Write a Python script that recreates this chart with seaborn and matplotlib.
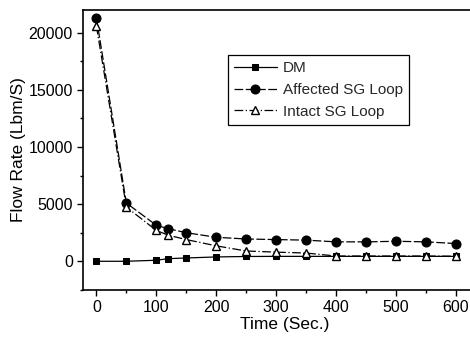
import numpy as np
import pandas as pd
import matplotlib
matplotlib.use("Agg")
import matplotlib.pyplot as plt
import seaborn as sns
from matplotlib.ticker import MultipleLocator

sns.set_theme(style="ticks")
plt.rcParams['font.family'] = ['Liberation Sans', 'DejaVu Sans']

time_sec = [0, 50, 100, 120, 150, 200, 250, 300, 350, 400, 450, 500, 550, 600]
dm_flow = [0, 0, 90, 230, 290, 380, 420, 430, 430, 430, 430, 430, 430, 430]
affected_flow = [21300, 5100, 3150, 2850, 2500, 2100, 1950, 1900, 1850, 1700, 1700, 1750, 1700, 1550]
intact_flow = [20600, 4750, 2700, 2280, 1900, 1350, 900, 800, 720, 460, 460, 460, 460, 440]

fig = plt.figure(figsize=(4.7, 3.41), dpi=100)
# axes runs past the right edge, as in the cropped original
ax = fig.add_axes([0.177, 0.150, 0.857, 0.821])

sns.lineplot(x=time_sec, y=dm_flow, ax=ax, color='black', linestyle='-', lw=0.9,
             marker='s', markersize=4.5, markerfacecolor='black', markeredgecolor='black',
             label='DM')
sns.lineplot(x=time_sec, y=affected_flow, ax=ax, color='black', linestyle=(0, (7, 2)), lw=0.9,
             marker='o', markersize=6.5, markerfacecolor='black', markeredgecolor='black',
             label='Affected SG Loop')
sns.lineplot(x=time_sec, y=intact_flow, ax=ax, color='black', linestyle=(0, (7, 2, 1, 2)), lw=0.9,
             marker='^', markersize=6, markerfacecolor='white', markeredgecolor='black',
             markeredgewidth=1.0, label='Intact SG Loop')

ax.set_xlim(-22, 650)
ax.set_ylim(-2500, 22000)
ax.xaxis.set_major_locator(MultipleLocator(100))
ax.xaxis.set_minor_locator(MultipleLocator(50))
ax.yaxis.set_major_locator(MultipleLocator(5000))
ax.yaxis.set_minor_locator(MultipleLocator(2500))
ax.tick_params(axis='both', which='major', direction='out', length=4, width=1,
               labelsize=11.5, color='black', labelcolor='black')
ax.tick_params(axis='both', which='minor', direction='out', length=2, width=1, color='black')

for side in ['left', 'bottom', 'top']:
    ax.spines[side].set_color('black')
    ax.spines[side].set_linewidth(1.2)
ax.spines['right'].set_visible(False)

ax.set_xlabel('Time (Sec.)', fontsize=12.5, color='black', labelpad=1)
ax.set_ylabel('Flow Rate (Lbm/S)', fontsize=12.5, color='black', labelpad=2)

leg = ax.legend(loc='upper left', bbox_to_anchor=(0.34, 0.865), fontsize=11,
                frameon=True, fancybox=False, edgecolor='black', framealpha=1,
                handlelength=2.8, handletextpad=0.4, borderpad=0.4, labelspacing=0.5)
leg.get_frame().set_linewidth(0.9)

fig.savefig('out.png', dpi=100)
